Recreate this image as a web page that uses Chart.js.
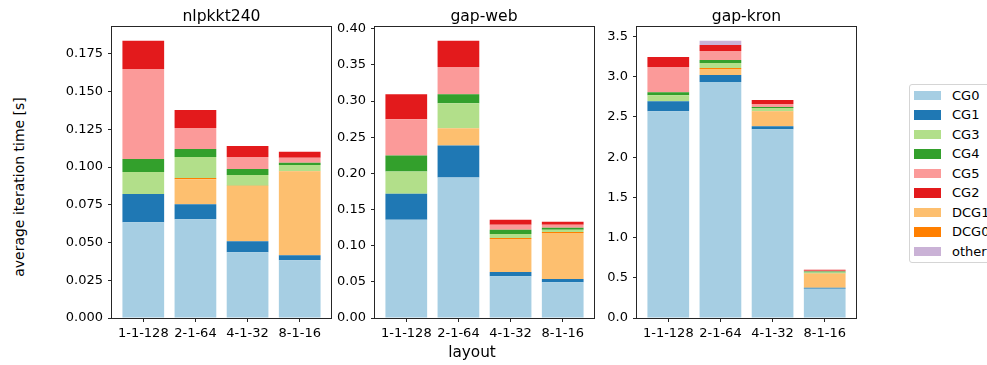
<!DOCTYPE html>
<html>
<head>
<meta charset="utf-8">
<script src="https://cdn.jsdelivr.net/npm/chart.js@4/dist/chart.umd.min.js"></script>
<style>
  body { margin: 0; background: #fff; }
  #fig { position: relative; width: 987px; height: 365px; overflow: hidden;
         font-family: 'DejaVu Sans', sans-serif; color: #000; background: #fff; }
  #fig canvas { position: absolute; top: 0; }
  .txt { position: absolute; white-space: nowrap; font-size: 13px; line-height: 16px; }
  .title { position: absolute; white-space: nowrap; font-size: 15.6px; line-height: 18px; transform: translateX(-50%); }
  #legend { position: absolute; left: 909px; top: 84px; width: 110px; height: 177px;
            border: 1px solid #d5d5d5; border-radius: 3px; background: #fff; }
  .item { position: absolute; left: 0; height: 16px; }
  .sw { position: absolute; left: 4px; top: 3px; width: 27px; height: 9.5px; }
  .lab { position: absolute; left: 42px; top: 0; font-size: 13px; line-height: 16px; white-space: nowrap; }
</style>
</head>
<body>
<div id="fig">
  <div class="title" style="left:221.5px; top:6.5px;">nlpkkt240</div>
  <div class="title" style="left:484px; top:6.5px;">gap-web</div>
  <div class="title" style="left:746.5px; top:6.5px;">gap-kron</div>
  <div class="txt" style="left:19px; top:187px; font-size:14px; line-height:17px; transform: translate(-50%,-50%) rotate(-90deg);">average iteration time [s]</div>
  <div class="txt" style="left:472px; top:342.7px; font-size:15.3px; line-height:18px; transform: translateX(-50%);">layout</div>
  <div id="legend"></div>
</div>
<script>
// Process layouts on the x axis
const layouts = ['1-1-128', '2-1-64', '4-1-32', '8-1-16'];

// Stacking order (bottom to top) and legend order of the kernel timings
const stackOrder = ['CG0', 'CG1', 'DCG1', 'DCG0', 'CG3', 'CG4', 'CG5', 'CG2', 'other'];
const legendOrder = ['CG0', 'CG1', 'CG3', 'CG4', 'CG5', 'CG2', 'DCG1', 'DCG0', 'other'];

const colors = {
  CG0: '#a6cee3', CG1: '#1f78b4', CG3: '#b2df8a', CG4: '#33a02c', CG5: '#fb9a99',
  CG2: '#e31a1c', DCG1: '#fdbf6f', DCG0: '#ff7f00', other: '#cab2d6'
};

// nlpkkt240 — average iteration time [s] per kernel
const nlpCG0   = [0.0635, 0.0655, 0.0436, 0.0383];
const nlpCG1   = [0.0186, 0.0099, 0.0073, 0.0033];
const nlpDCG1  = [0.0000, 0.0166, 0.0365, 0.0557];
const nlpDCG0  = [0.0000, 0.0007, 0.0002, 0.0001];
const nlpCG3   = [0.0146, 0.0139, 0.0071, 0.0040];
const nlpCG4   = [0.0086, 0.0053, 0.0040, 0.0014];
const nlpCG5   = [0.0597, 0.0140, 0.0079, 0.0033];
const nlpCG2   = [0.0186, 0.0119, 0.0073, 0.0040];
const nlpOther = [0, 0, 0, 0];

// gap-web
const webCG0   = [0.1358, 0.1942, 0.0579, 0.0496];
const webCG1   = [0.0362, 0.0445, 0.0056, 0.0042];
const webDCG1  = [0.0000, 0.0236, 0.0459, 0.0639];
const webDCG0  = [0.0000, 0.0000, 0.0014, 0.0014];
const webCG3   = [0.0305, 0.0348, 0.0055, 0.0028];
const webCG4   = [0.0223, 0.0125, 0.0056, 0.0028];
const webCG5   = [0.0501, 0.0376, 0.0070, 0.0042];
const webCG2   = [0.0347, 0.0361, 0.0069, 0.0041];
const webOther = [0, 0, 0, 0];

// gap-kron
const kronCG0   = [2.571, 2.933, 2.346, 0.3625];
const kronCG1   = [0.125, 0.088, 0.037, 0.0125];
const kronDCG1  = [0.000, 0.075, 0.188, 0.175];
const kronDCG0  = [0.000, 0.012, 0.004, 0.004];
const kronCG3   = [0.075, 0.063, 0.037, 0.0125];
const kronCG4   = [0.037, 0.037, 0.013, 0.0125];
const kronCG5   = [0.313, 0.113, 0.037, 0.008];
const kronCG2   = [0.125, 0.075, 0.050, 0.013];
const kronOther = [0.000, 0.050, 0.000, 0.000];

// y-axis tick steps and label precision per panel
const nlpTicks  = { step: 0.025, decimals: 3 };
const webTicks  = { step: 0.05,  decimals: 2 };
const kronTicks = { step: 0.5,   decimals: 1 };

Chart.defaults.font.family = "'DejaVu Sans', sans-serif";
Chart.defaults.font.size = 13;
Chart.defaults.color = '#000';

// Full rectangular frame around each plot area
const frame = {
  id: 'frame',
  afterDraw(chart) {
    const { ctx, chartArea: a } = chart;
    ctx.save();
    ctx.strokeStyle = '#262626';
    ctx.lineWidth = 1;
    ctx.strokeRect(Math.round(a.left) - 0.5, Math.round(a.top) - 0.5,
                   Math.round(a.right - a.left) + 1, Math.round(a.bottom - a.top) + 1);
    ctx.restore();
  }
};

const fig = document.getElementById('fig');
const AXIS_W = 60, PLOT_W = 219, RIGHT_PAD = 6;

function makePanel(plotLeft, series, tickCfg) {
  const canvas = document.createElement('canvas');
  canvas.width = AXIS_W + PLOT_W + RIGHT_PAD;
  canvas.height = 365;
  canvas.style.left = (plotLeft - AXIS_W) + 'px';
  fig.insertBefore(canvas, fig.firstChild);

  const totals = layouts.map((_, i) => stackOrder.reduce((s, k) => s + series[k][i], 0));
  const yMax = Math.max(...totals) * 1.05;

  const tickGrid = { display: true, drawOnChartArea: false, drawTicks: true, tickLength: 4,
                     color: '#262626', lineWidth: 1, offset: false };

  new Chart(canvas, {
    type: 'bar',
    data: {
      labels: layouts.map((_, i) => i),
      datasets: stackOrder.map(k => ({
        label: k,
        data: series[k],
        backgroundColor: colors[k],
        borderWidth: 0,
        categoryPercentage: 1,
        barPercentage: 0.8
      }))
    },
    options: {
      responsive: false,
      animation: false,
      devicePixelRatio: 1,
      events: [],
      layout: { padding: { top: 27, right: RIGHT_PAD, left: 0, bottom: 0 } },
      plugins: { legend: { display: false }, tooltip: { enabled: false }, title: { display: false } },
      scales: {
        x: {
          type: 'linear', stacked: true, min: -0.6, max: 3.6, offset: false,
          grid: tickGrid,
          border: { display: false },
          ticks: { stepSize: 1, includeBounds: false, padding: 4, maxRotation: 0, autoSkip: false,
                   callback: v => layouts[v] ?? '' },
          afterFit: s => { s.height = 47; }
        },
        y: {
          type: 'linear', stacked: true, min: 0, max: yMax,
          grid: tickGrid,
          border: { display: false },
          ticks: { stepSize: tickCfg.step, includeBounds: false, padding: 5,
                   callback: v => v.toFixed(tickCfg.decimals) },
          afterFit: s => { s.width = AXIS_W; }
        }
      }
    },
    plugins: [frame]
  });
}

makePanel(112, { CG0: nlpCG0, CG1: nlpCG1, DCG1: nlpDCG1, DCG0: nlpDCG0, CG3: nlpCG3,
                 CG4: nlpCG4, CG5: nlpCG5, CG2: nlpCG2, other: nlpOther }, nlpTicks);
makePanel(375, { CG0: webCG0, CG1: webCG1, DCG1: webDCG1, DCG0: webDCG0, CG3: webCG3,
                 CG4: webCG4, CG5: webCG5, CG2: webCG2, other: webOther }, webTicks);
makePanel(637, { CG0: kronCG0, CG1: kronCG1, DCG1: kronDCG1, DCG0: kronDCG0, CG3: kronCG3,
                 CG4: kronCG4, CG5: kronCG5, CG2: kronCG2, other: kronOther }, kronTicks);

// Shared legend
const legend = document.getElementById('legend');
legendOrder.forEach((k, i) => {
  const item = document.createElement('div');
  item.className = 'item';
  item.style.top = (2.5 + i * 19.5) + 'px';
  const sw = document.createElement('div');
  sw.className = 'sw';
  sw.style.background = colors[k];
  const lab = document.createElement('div');
  lab.className = 'lab';
  lab.textContent = k;
  item.appendChild(sw);
  item.appendChild(lab);
  legend.appendChild(item);
});
</script>
</body>
</html>
